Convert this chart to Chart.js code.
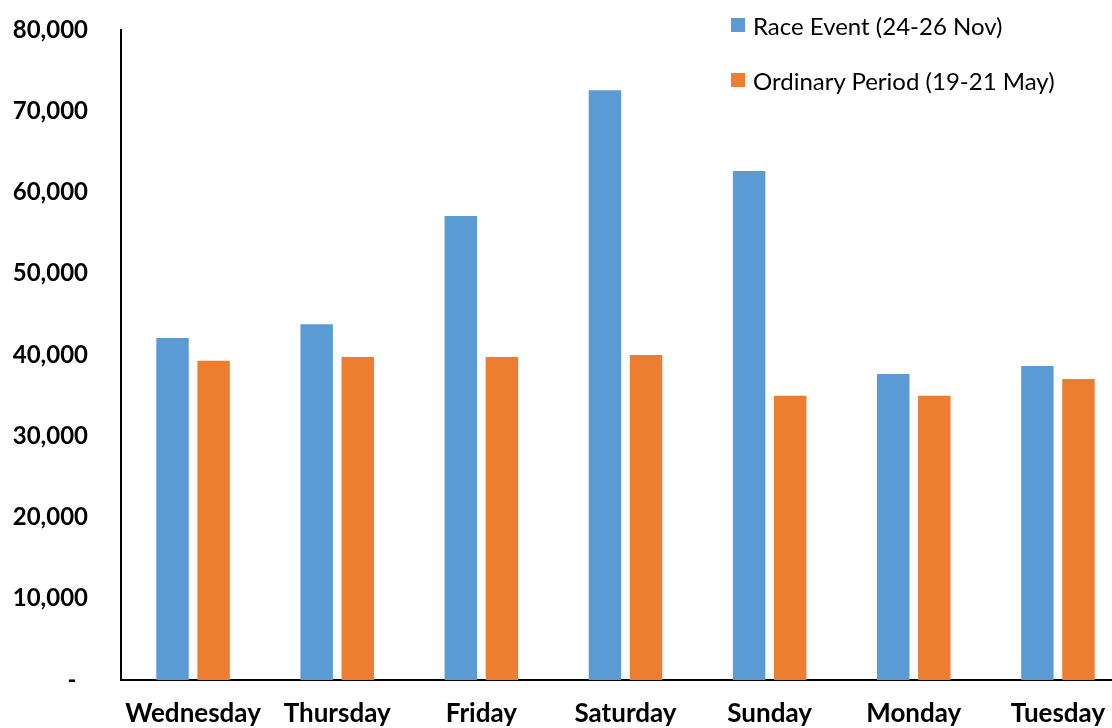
<!DOCTYPE html>
<html>
<head>
<meta charset="utf-8">
<title>Daily visitors: race event vs ordinary period</title>
<script src="https://cdn.jsdelivr.net/npm/chart.js@4.4.1/dist/chart.umd.min.js"></script>
<style>
  html, body { margin: 0; padding: 0; background: #fff; overflow: hidden; }
  #wrap { position: relative; width: 1130px; height: 728px; }
  #legend { position: absolute; left: 731px; top: 7px; font-family: Lato, "Open Sans", sans-serif; font-size: 24px; color: #000; }
  .item { display: flex; align-items: center; height: 36px; margin-bottom: 19px; white-space: nowrap; }
  .swatch { width: 14px; height: 14px; margin-right: 8px; }
</style>
</head>
<body>
<div id="wrap">
  <canvas id="c" width="1130" height="728"></canvas>
  <div id="legend"></div>
</div>
<script>
const days = ['Wednesday', 'Thursday', 'Friday', 'Saturday', 'Sunday', 'Monday', 'Tuesday'];
const raceEvent = [42100, 43800, 57100, 72600, 62650, 37650, 38650];
const ordinaryPeriod = [39300, 39750, 39750, 40000, 35000, 35000, 37050];
const seriesNames = ['Race Event (24-26 Nov)', 'Ordinary Period (19-21 May)'];
const seriesColors = ['#5B9BD5', '#ED7D31'];

const yFont = { family: 'Lato, "Open Sans", sans-serif', size: 24, weight: 'bold' };
const xFont = { family: 'Lato, "Open Sans", sans-serif', size: 26, weight: 'bold' };

const chart = new Chart(document.getElementById('c'), {
  type: 'bar',
  data: {
    labels: days,
    datasets: [
      { label: seriesNames[0], data: raceEvent, backgroundColor: seriesColors[0] },
      { label: seriesNames[1], data: ordinaryPeriod, backgroundColor: seriesColors[1] }
    ]
  },
  options: {
    responsive: false,
    animation: false,
    layout: { padding: { top: 30, right: 0, left: 0, bottom: 0 } },
    datasets: { bar: { categoryPercentage: 0.57, barPercentage: 0.79 } },
    plugins: { legend: { display: false }, tooltip: { enabled: false } },
    scales: {
      x: {
        grid: { display: false, drawTicks: false },
        border: { color: '#000', width: 2 },
        ticks: { color: '#000', font: xFont, padding: 18, maxRotation: 0, autoSkip: false },
        afterFit: s => { s.height = 48; s.paddingLeft = 0; s.paddingRight = 0; }
      },
      y: {
        min: 0,
        max: 80000,
        grid: { display: false, drawTicks: false },
        border: { color: '#000', width: 2 },
        ticks: {
          stepSize: 10000,
          color: '#000',
          font: yFont,
          padding: 33,
          callback: v => v === 0 ? '-  ' : v.toLocaleString('en-US')
        },
        // the top tick label may overhang the plot area; the top padding covers it
        afterFit: s => { s.width = 121; s.paddingTop = 0; s.paddingBottom = 0; }
      }
    }
  }
});

// Vertical legend in the upper right corner, built from the chart's datasets
const legend = document.getElementById('legend');
chart.data.datasets.forEach(ds => {
  const row = document.createElement('div');
  row.className = 'item';
  const sw = document.createElement('span');
  sw.className = 'swatch';
  sw.style.background = ds.backgroundColor;
  const txt = document.createElement('span');
  txt.textContent = ds.label;
  row.appendChild(sw);
  row.appendChild(txt);
  legend.appendChild(row);
});
</script>
</body>
</html>
